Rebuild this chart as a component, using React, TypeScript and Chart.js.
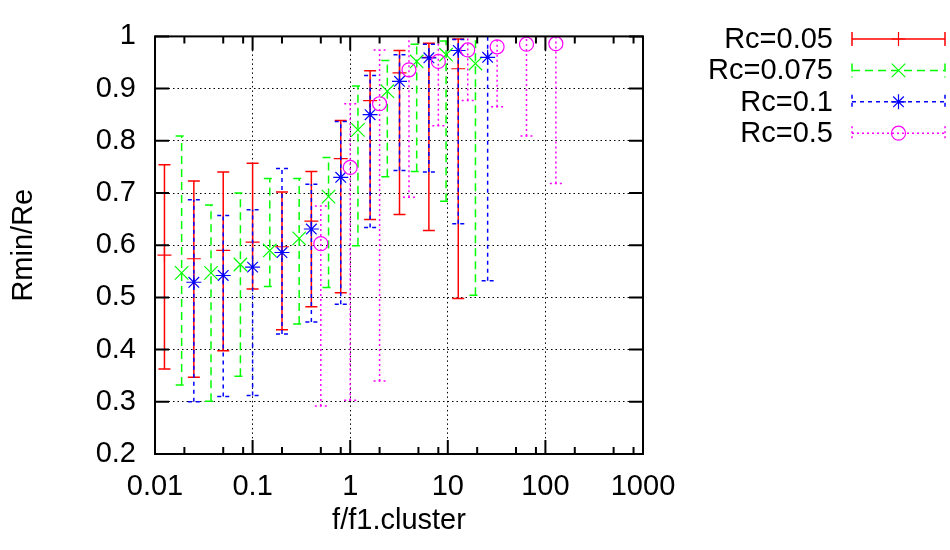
import React, { useEffect, useRef } from 'react';
import { Chart, registerables } from 'chart.js';

Chart.register(...registerables);

// ---- data ----
const seriesNames = ['Rc=0.05', 'Rc=0.075', 'Rc=0.1', 'Rc=0.5'];

const rc005X = [0.0125, 0.025, 0.05, 0.1, 0.2, 0.4, 0.8, 1.6, 3.2, 6.4, 12.8];
const rc005Y = [0.581, 0.574, 0.59, 0.606, 0.597, 0.646, 0.766, 0.877, 0.93, 0.96, 0.938];
const rc005Lo = [0.363, 0.347, 0.398, 0.516, 0.438, 0.482, 0.509, 0.649, 0.659, 0.628, 0.498];
const rc005Hi = [0.754, 0.723, 0.74, 0.757, 0.702, 0.741, 0.839, 0.934, 0.973, 0.987, 0.995];

const rc0075X = [0.01875, 0.0375, 0.075, 0.15, 0.3, 0.6, 1.2, 2.4, 4.8, 9.6, 19.2];
const rc0075Y = [0.547, 0.547, 0.563, 0.59, 0.613, 0.693, 0.821, 0.895, 0.952, 0.965, 0.948];
const rc0075Lo = [0.332, 0.301, 0.349, 0.521, 0.449, 0.519, 0.599, 0.731, 0.741, 0.684, 0.504];
const rc0075Hi = [0.809, 0.677, 0.7, 0.728, 0.728, 0.768, 0.905, 0.954, 0.985, 0.991, 1.03];

const rc01X = [0.025, 0.05, 0.1, 0.2, 0.4, 0.8, 1.6, 3.2, 6.4, 12.8, 25.6];
const rc01Y = [0.529, 0.542, 0.558, 0.586, 0.631, 0.73, 0.85, 0.914, 0.959, 0.973, 0.96];
const rc01Lo = [0.3, 0.31, 0.312, 0.43, 0.453, 0.487, 0.634, 0.743, 0.74, 0.641, 0.532];
const rc01Hi = [0.687, 0.657, 0.668, 0.747, 0.717, 0.837, 0.925, 0.965, 0.985, 0.994, 1.03];

const rc05X = [0.5, 1, 2, 4, 8, 16, 32, 64, 128];
const rc05Y = [0.603, 0.749, 0.871, 0.936, 0.952, 0.974, 0.98, 0.985, 0.986];
const rc05Lo = [0.292, 0.303, 0.34, 0.692, 0.829, 0.877, 0.865, 0.809, 0.718];
const rc05Hi = [0.675, 0.871, 0.974, 1.03, 1.03, 1.03, 1.03, 1.03, 1.03];

const xTickValues = [0.01, 0.1, 1, 10, 100, 1000];
const xTickLabels = ['0.01', '0.1', '1', '10', '100', '1000'];
const xMinorTickValues = [0.02, 0.05, 0.08, 0.2, 0.5, 0.8, 2, 5, 8, 20, 50, 80, 200, 500, 800];
const yTickValues = [0.2, 0.3, 0.4, 0.5, 0.6, 0.7, 0.8, 0.9, 1.0];
const yTickLabels = ['0.2', '0.3', '0.4', '0.5', '0.6', '0.7', '0.8', '0.9', '1'];

// ---- styles ----
const FONT_FAMILY = '"Liberation Sans", Arial, Helvetica, sans-serif';
const FONT_SIZE = 29;
const seriesColors = ['#ff0000', '#00ff00', '#0000ff', '#ff00ff'];
const seriesDash: number[][] = [[], [8, 5], [4, 4], [2, 3]];
const seriesPointStyles = ['cross', 'crossRot', 'star', 'circle'];
const seriesPointRadius = [7, 9.5, 7.5, 7];
const CAP_HALF = 6;

function buildPoints(xs: number[], ys: number[], lo: number[], hi: number[]) {
  return xs.map((x, i) => ({ x, y: ys[i], lo: lo[i], hi: hi[i] }));
}

function drawMarker(ctx: CanvasRenderingContext2D, style: string, x: number, y: number, r: number) {
  ctx.beginPath();
  if (style === 'circle') {
    ctx.arc(x, y, r, 0, Math.PI * 2);
  } else {
    const d = r * Math.SQRT1_2;
    if (style === 'cross' || style === 'star') {
      ctx.moveTo(x - r, y); ctx.lineTo(x + r, y);
      ctx.moveTo(x, y - r); ctx.lineTo(x, y + r);
    }
    if (style === 'crossRot' || style === 'star') {
      ctx.moveTo(x - d, y - d); ctx.lineTo(x + d, y + d);
      ctx.moveTo(x - d, y + d); ctx.lineTo(x + d, y - d);
    }
  }
  ctx.stroke();
}

const errorBarPlugin = {
  id: 'errorBars',
  beforeDatasetDraw(chart: any, args: any) {
    const idx = args.index;
    const ds = chart.data.datasets[idx];
    const { ctx, chartArea } = chart;
    const xs = chart.scales.x;
    const ys = chart.scales.y;
    ctx.save();
    ctx.beginPath();
    ctx.rect(chartArea.left, chartArea.top, chartArea.right - chartArea.left, chartArea.bottom - chartArea.top);
    ctx.clip();
    ctx.strokeStyle = seriesColors[idx];
    ctx.lineWidth = 1.5;
    ctx.setLineDash(seriesDash[idx]);
    ds.data.forEach((pt: any) => {
      const px = xs.getPixelForValue(pt.x);
      const pTop = ys.getPixelForValue(pt.hi);
      const pBot = ys.getPixelForValue(pt.lo);
      ctx.beginPath();
      ctx.moveTo(px, pBot);
      ctx.lineTo(px, pTop);
      ctx.stroke();
      ctx.beginPath();
      ctx.moveTo(px - CAP_HALF, pTop);
      ctx.lineTo(px + CAP_HALF, pTop);
      ctx.moveTo(px - CAP_HALF, pBot);
      ctx.lineTo(px + CAP_HALF, pBot);
      ctx.stroke();
    });
    ctx.restore();
  },
};

const frameLegendPlugin = {
  id: 'frameLegend',
  afterDraw(chart: any) {
    const { ctx, chartArea } = chart;
    const { left, right, top, bottom } = chartArea;
    const xs = chart.scales.x;
    const ys = chart.scales.y;
    ctx.save();
    ctx.strokeStyle = '#000';
    ctx.lineWidth = 2;
    ctx.setLineDash([]);
    ctx.strokeRect(left, top, right - left, bottom - top);
    ctx.beginPath();
    yTickValues.forEach((v) => {
      const py = ys.getPixelForValue(v);
      ctx.moveTo(left, py); ctx.lineTo(left + 14, py);
      ctx.moveTo(right, py); ctx.lineTo(right - 14, py);
    });
    xTickValues.forEach((v) => {
      const px = xs.getPixelForValue(v);
      ctx.moveTo(px, bottom); ctx.lineTo(px, bottom - 14);
      ctx.moveTo(px, top); ctx.lineTo(px, top + 14);
    });
    xMinorTickValues.forEach((v) => {
      const px = xs.getPixelForValue(v);
      ctx.moveTo(px, bottom); ctx.lineTo(px, bottom - 7);
      ctx.moveTo(px, top); ctx.lineTo(px, top + 7);
    });
    ctx.stroke();

    // legend
    const textRight = 833;
    const lineX0 = 852;
    const lineX1 = 945;
    const rowY0 = 39;
    const rowStep = 31.4;
    ctx.font = `${FONT_SIZE}px ${FONT_FAMILY}`;
    ctx.textAlign = 'right';
    ctx.textBaseline = 'middle';
    seriesNames.forEach((name, i) => {
      const y = rowY0 + i * rowStep;
      ctx.fillStyle = '#000';
      ctx.fillText(name, textRight, y + 1);
      ctx.strokeStyle = seriesColors[i];
      ctx.lineWidth = 1.5;
      ctx.setLineDash(seriesDash[i]);
      ctx.beginPath();
      ctx.moveTo(lineX0, y); ctx.lineTo(lineX1, y);
      ctx.stroke();
      ctx.beginPath();
      ctx.moveTo(lineX0, y - 7); ctx.lineTo(lineX0, y + 7);
      ctx.moveTo(lineX1, y - 7); ctx.lineTo(lineX1, y + 7);
      ctx.stroke();
      ctx.setLineDash([]);
      ctx.lineWidth = 1.2;
      drawMarker(ctx, seriesPointStyles[i], (lineX0 + lineX1) / 2, y, seriesPointRadius[i]);
    });
    ctx.restore();
  },
};

export default function App() {
  const canvasRef = useRef<HTMLCanvasElement | null>(null);

  useEffect(() => {
    const canvas = canvasRef.current;
    if (!canvas) return;
    const font = { family: FONT_FAMILY, size: FONT_SIZE };
    const allPoints = [
      buildPoints(rc005X, rc005Y, rc005Lo, rc005Hi),
      buildPoints(rc0075X, rc0075Y, rc0075Lo, rc0075Hi),
      buildPoints(rc01X, rc01Y, rc01Lo, rc01Hi),
      buildPoints(rc05X, rc05Y, rc05Lo, rc05Hi),
    ];
    const datasets = allPoints.map((pts, i) => ({
      label: seriesNames[i],
      data: pts,
      showLine: false,
      borderColor: seriesColors[i],
      backgroundColor: 'rgba(0,0,0,0)',
      pointStyle: seriesPointStyles[i],
      pointRadius: seriesPointRadius[i],
      pointBorderWidth: 1.2,
      pointBorderColor: seriesColors[i],
      pointBackgroundColor: 'rgba(0,0,0,0)',
      order: 4 - i,
      clip: 12,
    }));

    const chart = new Chart(canvas, {
      type: 'scatter',
      data: { datasets } as any,
      options: {
        responsive: false,
        animation: false,
        events: [],
        layout: { padding: { left: 0, top: 21, right: 307, bottom: 0 } },
        plugins: { legend: { display: false }, tooltip: { enabled: false } },
        scales: {
          x: {
            type: 'logarithmic',
            min: 0.01,
            max: 1000,
            afterBuildTicks: (s: any) => {
              s.ticks = xTickValues.map((v) => ({ value: v }));
            },
            afterFit: (s: any) => {
              s.height = 96;
            },
            ticks: {
              callback: (_v: any, i: number) => xTickLabels[i],
              font,
              color: '#000',
              padding: 16,
              maxRotation: 0,
              autoSkip: false,
            },
            grid: { color: '#000', lineWidth: 1, drawTicks: false },
            border: { display: false, dash: [1.5, 3] },
            title: { display: true, text: 'f/f1.cluster', font, color: '#000', padding: { top: 0, bottom: 12 } },
          },
          y: {
            type: 'linear',
            min: 0.2,
            max: 1,
            afterBuildTicks: (s: any) => {
              s.ticks = yTickValues.map((v) => ({ value: v }));
            },
            afterFit: (s: any) => {
              s.width = 155;
            },
            ticks: {
              callback: (_v: any, i: number) => yTickLabels[i],
              font,
              color: '#000',
              padding: 19,
              autoSkip: false,
            },
            grid: { color: '#000', lineWidth: 1, drawTicks: false },
            border: { display: false, dash: [1.5, 3] },
            title: { display: true, text: 'Rmin/Re', font, color: '#000', padding: { top: 7, bottom: 0 } },
          },
        },
      } as any,
      plugins: [errorBarPlugin, frameLegendPlugin],
    });
    return () => chart.destroy();
  }, []);

  return (
    <div style={{ position: 'fixed', left: 0, top: 0, width: 950, height: 550, background: '#fff' }}>
      <canvas ref={canvasRef} width={950} height={550} style={{ display: 'block' }} />
    </div>
  );
}
